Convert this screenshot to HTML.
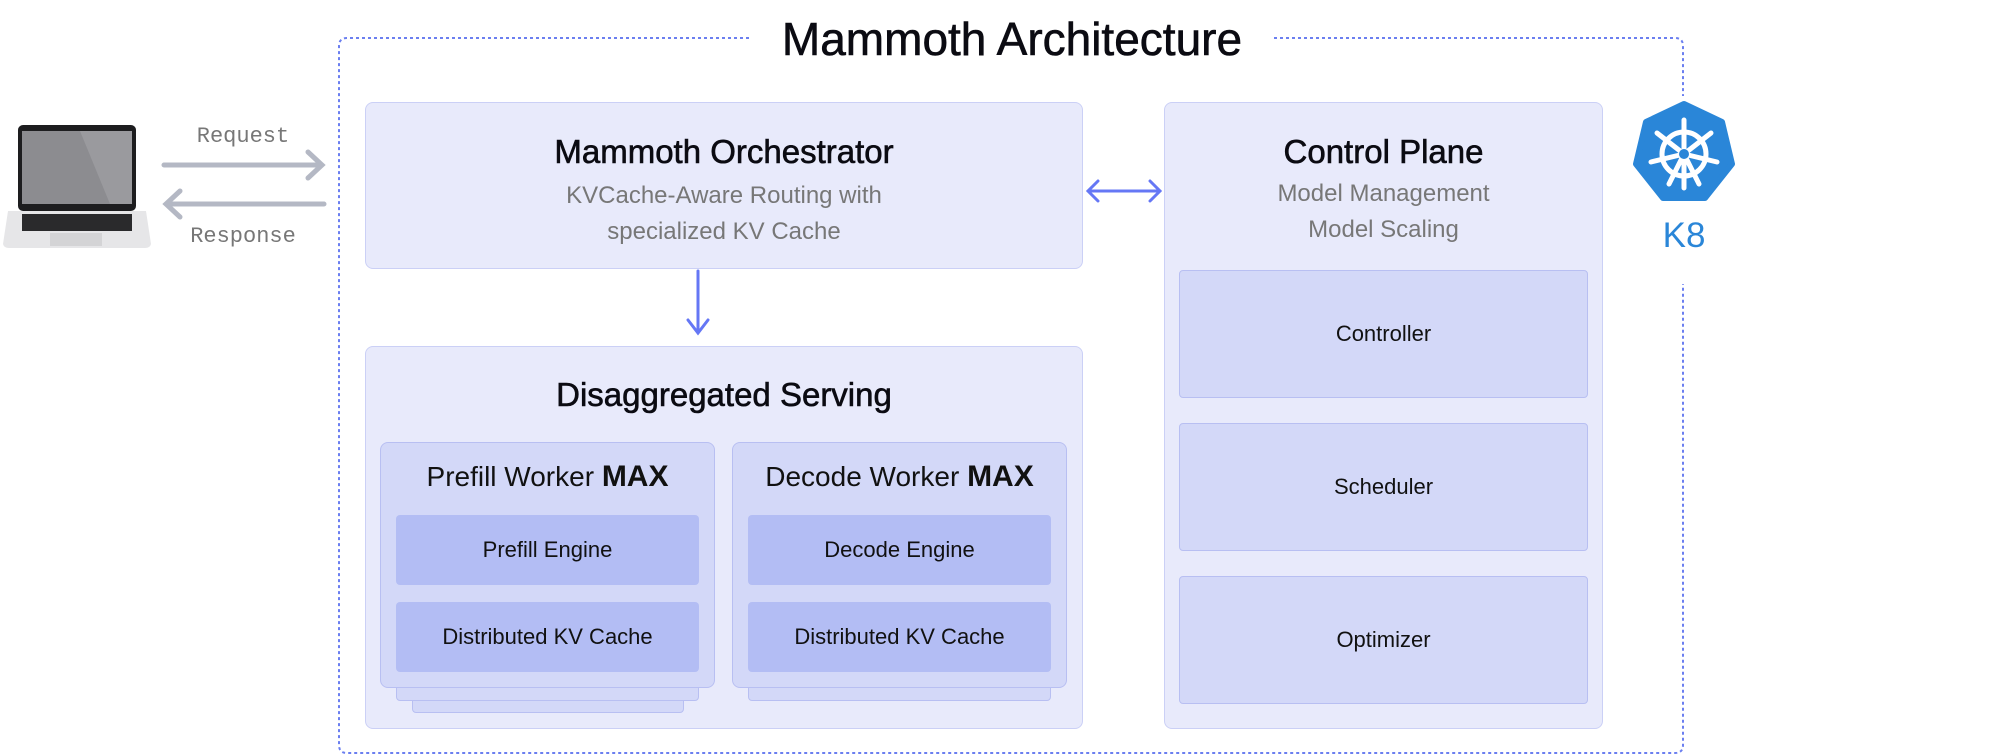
<!DOCTYPE html>
<html><head><meta charset="utf-8"><style>
body{margin:0;width:2008px;height:756px;background:#fff;position:relative;overflow:hidden;font-family:"Liberation Sans",sans-serif;}
.a{position:absolute;box-sizing:border-box;}
.box{background:#e8eafb;border:1.5px solid #cbd0f6;border-radius:8px;}
.cb{background:#d3d8f8;border:1.5px solid #b8bff2;border-radius:4px;display:flex;align-items:center;justify-content:center;font-size:22px;color:#111;}
.eng{background:#b3bdf4;border-radius:4px;display:flex;align-items:center;justify-content:center;font-size:22px;color:#111;}
.t{position:absolute;text-align:center;white-space:nowrap;}
.h{-webkit-text-stroke:0.6px #0b0b12;}
</style></head><body>
<svg class="a" style="left:0;top:0" width="2008" height="756">
<g fill="none" stroke="#6b7ff0" stroke-width="2" stroke-dasharray="3 3">
<path d="M749 38 H347 Q339 38 339 46 V745 Q339 753 347 753 H1675 Q1683 753 1683 745 V284"/>
<path d="M1274 38 H1675 Q1683 38 1683 46 V96"/>
</g>
<g stroke="#b4b8c4" stroke-width="5" fill="none" stroke-linecap="round">
<path d="M164 165 H322 M308 152 L322 165 L308 178"/>
<path d="M324 204 H166 M180 191 L166 204 L180 217"/>
</g>
<g stroke="#6577f5" stroke-width="3" fill="none" stroke-linecap="round">
<path d="M698 271 V333 M688 320 L698 333 L708 320"/>
<path d="M1088 191 H1160 M1098 181 L1088 191 L1098 201 M1150 181 L1160 191 L1150 201"/>
</g>
<!-- laptop -->
<rect x="18" y="125" width="118" height="86" rx="5" fill="#1d1d1f"/>
<rect x="22" y="131" width="110" height="73" fill="#9a9a9e"/>
<polygon points="22,131 80,131 110,204 22,204" fill="#8c8c90"/>
<path d="M8 211 H146 L151 244 Q150 248 145 248 H9 Q4 248 3 244 Z" fill="#e6e6e8"/>
<rect x="22" y="214" width="110" height="17" fill="#2a2a2c"/>
<rect x="50" y="233" width="52" height="13" fill="#d4d4d6"/>
<!-- k8 -->
<polygon points="1684,104 1722,122 1732,164 1705,198 1663,198 1636,164 1646,122" fill="#2a86d8" stroke="#2a86d8" stroke-width="6" stroke-linejoin="round"/>
<g stroke="#fff" stroke-width="5" fill="none" stroke-linecap="round">
<circle cx="1684" cy="154" r="22"/>
<path d="M1684 120 V188 M1684 154 L1657 133 M1684 154 L1711 133 M1684 154 L1651 162 M1684 154 L1717 162 M1684 154 L1669 184 M1684 154 L1699 184"/>
</g>
<circle cx="1684" cy="154" r="5" fill="#2a86d8"/>
</svg>
<div class="t h" style="left:0;width:2024px;top:12px;font-size:46px;color:#0b0b12;">Mammoth Architecture</div>
<div class="t" style="left:183px;width:120px;top:124px;font-size:22px;color:#777;font-family:'Liberation Mono',monospace;">Request</div>
<div class="t" style="left:183px;width:120px;top:224px;font-size:22px;color:#777;font-family:'Liberation Mono',monospace;">Response</div>
<div class="t" style="left:1634px;width:100px;top:216px;font-size:35px;color:#2a86d8;">K8</div>

<div class="a box" style="left:365px;top:102px;width:718px;height:167px;"></div>
<div class="t h" style="left:365px;width:718px;top:133px;font-size:33px;color:#0b0b12;">Mammoth Orchestrator</div>
<div class="t" style="left:365px;width:718px;top:178px;font-size:24px;color:#777;line-height:36px;">KVCache-Aware Routing with<br>specialized KV Cache</div>

<div class="a box" style="left:1164px;top:102px;width:439px;height:627px;"></div>
<div class="t h" style="left:1164px;width:439px;top:133px;font-size:33px;color:#0b0b12;">Control Plane</div>
<div class="t" style="left:1164px;width:439px;top:176px;font-size:24px;color:#777;line-height:36px;">Model Management<br>Model Scaling</div>
<div class="a cb" style="left:1179px;top:270px;width:409px;height:128px;">Controller</div>
<div class="a cb" style="left:1179px;top:423px;width:409px;height:128px;">Scheduler</div>
<div class="a cb" style="left:1179px;top:576px;width:409px;height:128px;">Optimizer</div>

<div class="a box" style="left:365px;top:346px;width:718px;height:383px;"></div>
<div class="t h" style="left:365px;width:718px;top:376px;font-size:33px;color:#0b0b12;">Disaggregated Serving</div>

<div class="a cb" style="left:412px;top:680px;width:272px;height:33px;"></div>
<div class="a cb" style="left:396px;top:670px;width:303px;height:31px;"></div>
<div class="a cb" style="left:380px;top:442px;width:335px;height:246px;border-radius:8px;"></div>
<div class="t" style="left:380px;width:335px;top:460px;font-size:28px;color:#111;">Prefill Worker <b style="font-size:30px">MAX</b></div>
<div class="a eng" style="left:396px;top:515px;width:303px;height:70px;">Prefill Engine</div>
<div class="a eng" style="left:396px;top:602px;width:303px;height:70px;">Distributed KV Cache</div>

<div class="a cb" style="left:748px;top:670px;width:303px;height:31px;"></div>
<div class="a cb" style="left:732px;top:442px;width:335px;height:246px;border-radius:8px;"></div>
<div class="t" style="left:732px;width:335px;top:460px;font-size:28px;color:#111;">Decode Worker <b style="font-size:30px">MAX</b></div>
<div class="a eng" style="left:748px;top:515px;width:303px;height:70px;">Decode Engine</div>
<div class="a eng" style="left:748px;top:602px;width:303px;height:70px;">Distributed KV Cache</div>
</body></html>
